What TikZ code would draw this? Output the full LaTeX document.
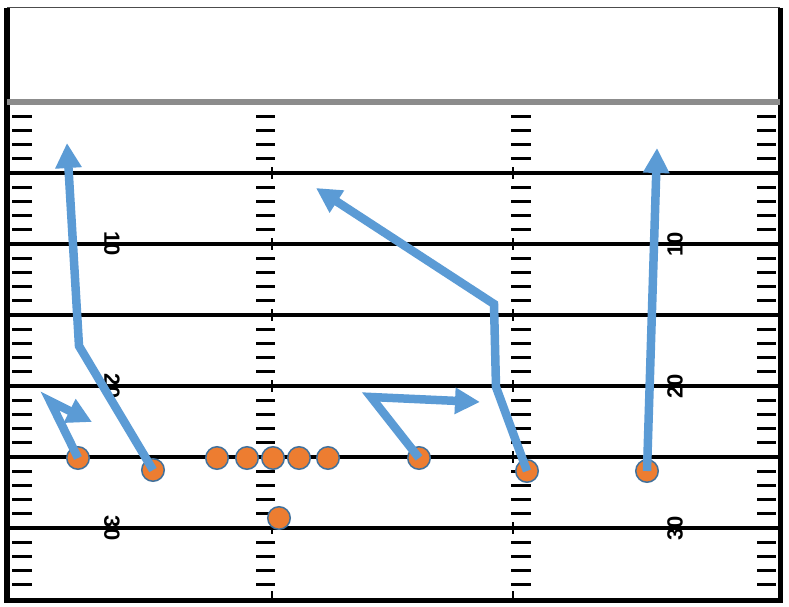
\documentclass[tikz,border=0pt]{standalone}
\usepackage{fontspec}
\setmainfont{Liberation Sans}
\usetikzlibrary{arrows.meta}
\definecolor{routeblue}{RGB}{91, 155, 213}
\definecolor{playerorange}{RGB}{237, 125, 49}
\definecolor{playeredge}{RGB}{65, 113, 156}
\definecolor{goalgray}{RGB}{140, 140, 140}

\begin{document}
\begin{tikzpicture}[x=1pt, y=-1pt,
    player/.style={circle, draw=playeredge, line width=1.5pt, fill=playerorange, minimum size=22.5pt, inner sep=0pt},
    route/.style={draw=routeblue, line width=8.5pt, -{Triangle[length=25pt, width=25pt]}},
    yardnum/.style={font=\fontsize{22}{22}\selectfont\bfseries, inner sep=0pt}]
        \useasboundingbox[fill=white] (0, 0) rectangle (789, 607);

        % Field border
        \draw[line width=1pt, color=black!70] (7, 8) -- (780, 8);
        \draw[line width=6pt] (7, 8) -- (7, 603);
        \draw[line width=5pt] (780, 8) -- (780, 603);
        \draw[line width=5pt] (7, 600) -- (780, 600);

        % Goal line
        \draw[line width=6pt, color=goalgray] (7, 102) -- (780, 102);

        % Yard lines with ticks at the hashes
        \foreach \i in {1,...,6} {
            \draw[line width=4pt] (7, 102+71*\i) -- (780, 102+71*\i);
            \draw[line width=2pt] (272, 96+71*\i) -- (272, 108+71*\i);
            \draw[line width=2pt] (513, 96+71*\i) -- (513, 108+71*\i);
        }
        \draw[line width=2pt] (272, 591) -- (272, 600);
        \draw[line width=2pt] (513, 591) -- (513, 600);

        % Hash marks
        \foreach \i in {0,...,6} {
            \foreach \k in {1,...,4} {
                \pgfmathsetmacro\hy{102+71*\i+14.2*\k}
                \draw[line width=3pt] (12, \hy) -- (32, \hy);
                \draw[line width=3pt] (256, \hy) -- (275, \hy);
                \draw[line width=3pt] (511, \hy) -- (531, \hy);
                \draw[line width=3pt] (757, \hy) -- (776, \hy);
            }
        }

        % Yard numbers
        \node[yardnum, rotate=-90] (lten) at (112, 244) {10};
        \node[yardnum, rotate=-90] (ltwenty) at (112, 386) {20};
        \node[yardnum, rotate=-90] (lthirty) at (112, 528) {30};
        \node[yardnum, rotate=90] (rten) at (675, 244) {10};
        \node[yardnum, rotate=90] (rtwenty) at (675, 386) {20};
        \node[yardnum, rotate=90] (rthirty) at (675, 528) {30};

        % Players
        \node[player] (wrone) at (78, 458) {};
        \node[player] (wrtwo) at (153, 470) {};
        \node[player] (lnone) at (217, 458) {};
        \node[player] (lntwo) at (247, 458) {};
        \node[player] (lnthree) at (273, 458) {};
        \node[player] (lnfour) at (299, 458) {};
        \node[player] (lnfive) at (328, 458) {};
        \node[player] (qb) at (279, 518) {};
        \node[player] (te) at (419, 458) {};
        \node[player] (wrthree) at (527, 471) {};
        \node[player] (wrfour) at (647, 471) {};

        % Route breaks and ends
        \coordinate (postbreak) at (79, 346);
        \coordinate (postend) at (67, 143);
        \coordinate (flatbreak) at (50, 401);
        \coordinate (flatend) at (92, 422);
        \coordinate (inbreak) at (371, 397);
        \coordinate (inend) at (480, 402);
        \coordinate (cornerlow) at (496, 387);
        \coordinate (cornerhigh) at (494, 304);
        \coordinate (cornerend) at (316, 188);
        \coordinate (goend) at (657, 148);

        % Routes
        \draw[route] (wrtwo.center) -- (postbreak) -- (postend);
        \draw[route] (wrone.center) -- (flatbreak) -- (flatend);
        \draw[route] (te.center) -- (inbreak) -- (inend);
        \draw[route] (wrthree.center) -- (cornerlow) -- (cornerhigh) -- (cornerend);
        \draw[route] (wrfour.center) -- (goend);
    \end{tikzpicture}
\end{document}
